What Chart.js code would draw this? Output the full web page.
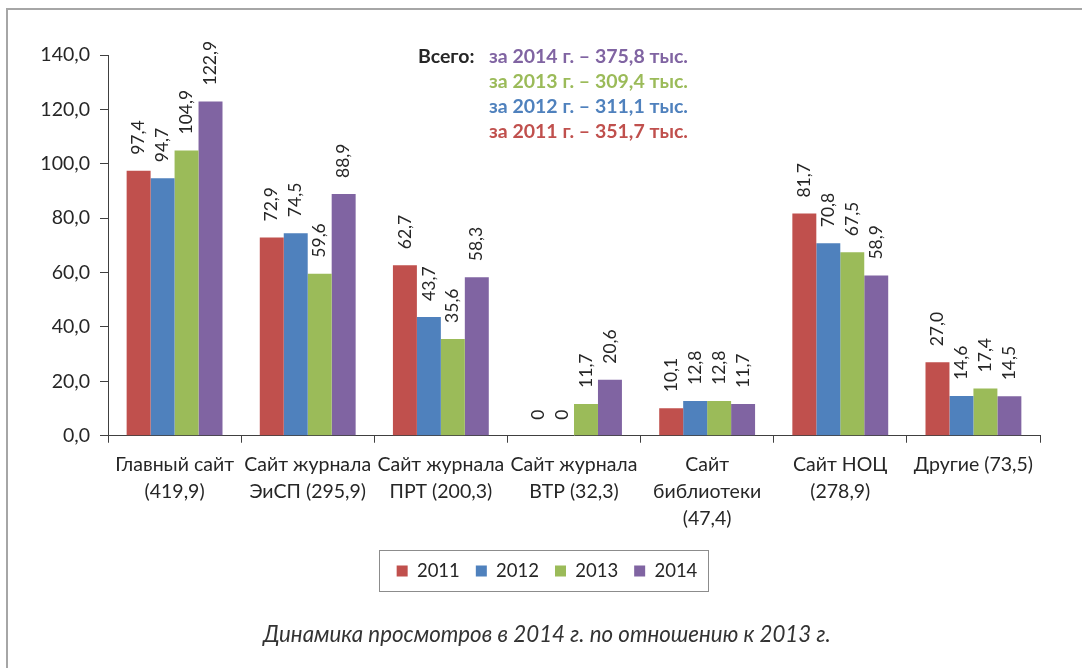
<!DOCTYPE html>
<html>
<head>
<meta charset="utf-8">
<title>Динамика просмотров</title>
<script src="https://cdn.jsdelivr.net/npm/chart.js@4"></script>
<style>
  html, body { margin: 0; padding: 0; background: #fff; }
  #frame {
    position: absolute; left: 6px; top: 8px; width: 1076px; height: 660px;
    border-top: 2px solid #a6a6a6; border-left: 2px solid #a6a6a6;
  }
  #chart { position: absolute; left: 0; top: 0; }
</style>
</head>
<body>
<div id="frame"></div>
<canvas id="chart" width="1082" height="668"></canvas>
<script>
// data
const categories = [
    ['Главный сайт', '(419,9)'],
    ['Сайт журнала', 'ЭиСП (295,9)'],
    ['Сайт журнала', 'ПРТ (200,3)'],
    ['Сайт журнала', 'ВТР (32,3)'],
    ['Сайт', 'библиотеки', '(47,4)'],
    ['Сайт НОЦ', '(278,9)'],
    ['Другие (73,5)']
];
const years = ['2011', '2012', '2013', '2014'];
const views2011 = [97.4, 72.9, 62.7, 0, 10.1, 81.7, 27.0];
const views2012 = [94.7, 74.5, 43.7, 0, 12.8, 70.8, 14.6];
const views2013 = [104.9, 59.6, 35.6, 11.7, 12.8, 67.5, 17.4];
const views2014 = [122.9, 88.9, 58.3, 20.6, 11.7, 58.9, 14.5];
const totals = ['351,7', '311,1', '309,4', '375,8'];   // тыс., by year
const yTicks = [0, 20, 40, 60, 80, 100, 120, 140];

const colors = ['#C0504D', '#4F81BD', '#9BBB59', '#8064A2'];
const textColor = '#262626';
const axisColor = '#404040';
const fontFamily = 'Lato, "Noto Sans", sans-serif';

function fmt(v) {
    return v === 0 ? '0' : v.toFixed(1).replace('.', ',');
}

// rotated value labels above each bar
const barLabels = {
    id: 'barLabels',
    afterDatasetsDraw(chart) {
        const ctx = chart.ctx;
        ctx.save();
        ctx.font = '17.5px ' + fontFamily;
        ctx.fillStyle = textColor;
        ctx.textAlign = 'left';
        ctx.textBaseline = 'middle';
        chart.data.datasets.forEach((ds, i) => {
            chart.getDatasetMeta(i).data.forEach((bar, j) => {
                ctx.save();
                ctx.translate(bar.x, bar.y - 16);
                ctx.rotate(-Math.PI / 2);
                ctx.fillText(fmt(ds.data[j]), 0, 0);
                ctx.restore();
            });
        });
        ctx.restore();
    }
};

// "Всего:" block with yearly totals
const totalsNote = {
    id: 'totalsNote',
    afterDraw(chart) {
        const ctx = chart.ctx;
        ctx.save();
        ctx.font = 'bold 19.5px ' + fontFamily;
        ctx.textBaseline = 'middle';
        ctx.textAlign = 'left';
        ctx.fillStyle = textColor;
        ctx.fillText('Всего:', 418, 57);
        for (let k = years.length - 1, line = 0; k >= 0; k--, line++) {
            ctx.fillStyle = colors[k];
            ctx.fillText('за ' + years[k] + ' г. – ' + totals[k] + ' тыс.', 489, 57 + line * 25);
        }
        ctx.restore();
    }
};

// frame round the legend
const legendBox = {
    id: 'legendBox',
    afterDraw(chart) {
        const boxes = chart.legend.legendHitBoxes;
        if (!boxes || !boxes.length) return;
        let x0 = Infinity, x1 = -Infinity, y0 = Infinity, y1 = -Infinity;
        boxes.forEach(b => {
            x0 = Math.min(x0, b.left); x1 = Math.max(x1, b.left + b.width);
            y0 = Math.min(y0, b.top); y1 = Math.max(y1, b.top + b.height);
        });
        const cy = (y0 + y1) / 2;
        const ctx = chart.ctx;
        ctx.save();
        ctx.strokeStyle = '#8c8c8c';
        ctx.lineWidth = 1;
        ctx.strokeRect(Math.round(x0 - 18) + 0.5, Math.round(cy - 21) + 0.5,
            Math.round(x1 - x0 + 28), 41);
        ctx.restore();
    }
};

const yearSeries = [views2011, views2012, views2013, views2014];

new Chart(document.getElementById('chart'), {
    type: 'bar',
    data: {
        labels: categories,
        datasets: yearSeries.map((vals, i) => ({
            label: years[i],
            data: vals,
            backgroundColor: colors[i],
            borderWidth: 0,
            categoryPercentage: 0.72,
            barPercentage: 1.0
        }))
    },
    options: {
        responsive: false,
        animation: false,
        devicePixelRatio: 1,
        layout: { padding: { top: 55, right: 0, left: 12, bottom: 8 } },
        scales: {
            x: {
                offset: true,
                grid: { drawOnChartArea: false, drawTicks: true, tickLength: 7, color: axisColor },
                border: { display: true, color: axisColor, width: 1 },
                ticks: {
                    autoSkip: false, maxRotation: 0, padding: 8,
                    color: textColor,
                    font: { family: fontFamily, size: 19.5, lineHeight: 1.4 }
                },
                afterFit: scale => { scale.height = 110; }
            },
            y: {
                min: 0, max: 140,
                afterBuildTicks: scale => { scale.ticks = yTicks.map(v => ({ value: v })); },
                grid: { drawOnChartArea: false, drawTicks: true, tickLength: 8, color: axisColor },
                border: { display: true, color: axisColor, width: 1 },
                ticks: {
                    padding: 10,
                    color: textColor,
                    font: { family: fontFamily, size: 19.5 },
                    callback: v => v.toFixed(1).replace('.', ',')
                },
                afterFit: scale => { scale.width = 96; }
            },
            // empty right-hand axis, only keeps the white margin on the right
            yRight: {
                position: 'right',
                grid: { display: false },
                border: { display: false },
                ticks: { display: false },
                afterFit: scale => { scale.width = 42; }
            }
        },
        plugins: {
            legend: {
                position: 'bottom',
                labels: {
                    boxWidth: 11, boxHeight: 11, padding: 16,
                    color: textColor,
                    font: { family: fontFamily, size: 18.5 }
                }
            },
            title: {
                display: true,
                position: 'bottom',
                text: 'Динамика просмотров в 2014 г. по отношению к 2013 г.',
                color: '#333333',
                font: { family: fontFamily, size: 22.3, style: 'italic', weight: 'normal' },
                padding: { top: 31, bottom: 12 }
            },
            tooltip: { enabled: false }
        }
    },
    plugins: [barLabels, totalsNote, legendBox]
});
</script>
</body>
</html>
